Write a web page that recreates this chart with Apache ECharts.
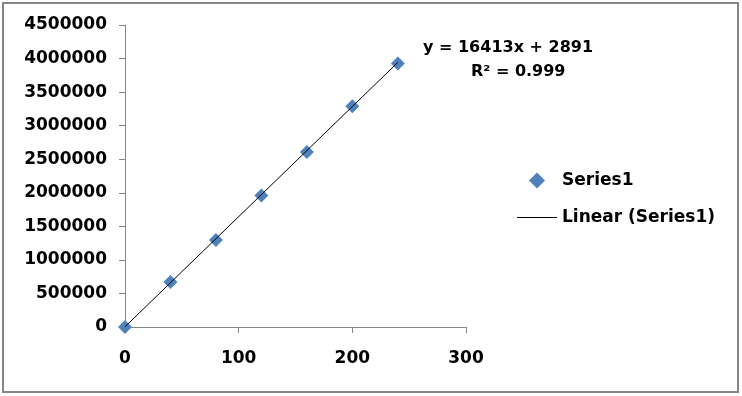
<!DOCTYPE html>
<html>
<head>
<meta charset="utf-8">
<script src="https://cdn.jsdelivr.net/npm/echarts@6/dist/echarts.min.js"></script>
<style>
html,body{margin:0;padding:0;background:#fff;}
#chart{width:742px;height:396px;}
</style>
</head>
<body>
<div id="chart"></div>
<script>
// ---- data ----
var xValues = [0, 40, 80, 120, 160, 200, 240];
var yValues = [0, 672000, 1297000, 1958000, 2607000, 3289000, 3927000];
var seriesName = 'Series1';
var trendName = 'Linear (Series1)';
var trendSlope = 16413;
var trendIntercept = 2891;
var equationText = 'y = 16413x + 2891';
var r2Text = 'R² = 0.999';
var xTicks = [0, 100, 200, 300];
var yTicks = [0, 500000, 1000000, 1500000, 2000000, 2500000, 3000000, 3500000, 4000000, 4500000];

var points = xValues.map(function (x, i) { return [x, yValues[i]]; });
var xMinData = Math.min.apply(null, xValues);
var xMaxData = Math.max.apply(null, xValues);
var trendPoints = [xMinData, xMaxData].map(function (x) { return [x, trendSlope * x + trendIntercept]; });

var FONT = 'DejaVu Sans';
var axisColor = '#868686';

var chart = echarts.init(document.getElementById('chart'), null, {renderer: 'canvas'});
chart.setOption({
  animation: false,
  backgroundColor: '#fff',
  grid: {left: 125, top: 25, width: 341, height: 302, containLabel: false},
  xAxis: {
    type: 'value',
    min: xTicks[0], max: xTicks[xTicks.length - 1], interval: xTicks[1] - xTicks[0],
    splitLine: {show: false},
    axisLine: {show: true, onZero: false, lineStyle: {color: axisColor, width: 1}},
    axisTick: {show: true, inside: false, length: 6, lineStyle: {color: axisColor}},
    axisLabel: {color: '#000', fontFamily: FONT, fontWeight: 'bold', fontSize: 17, margin: 23,
      formatter: function (v) { return String(v); }}
  },
  yAxis: {
    type: 'value',
    min: yTicks[0], max: yTicks[yTicks.length - 1], interval: yTicks[1] - yTicks[0],
    splitLine: {show: false},
    axisLine: {show: true, onZero: false, lineStyle: {color: axisColor, width: 1}},
    axisTick: {show: true, inside: false, length: 6, lineStyle: {color: axisColor}},
    axisLabel: {color: '#000', fontFamily: FONT, fontWeight: 'bold', fontSize: 17, margin: 18,
      formatter: function (v) { return String(v); }}
  },
  legend: {
    orient: 'vertical',
    left: 512, top: 167,
    itemWidth: 40, itemHeight: 16, itemGap: 20,
    symbolKeepAspect: true,
    textStyle: {color: '#000', fontFamily: FONT, fontWeight: 'bold', fontSize: 17, lineHeight: 17},
    data: [
      {name: seriesName, icon: 'path://M6.5,0L13,6.5L6.5,13L0,6.5Z', itemStyle: {color: '#4F81BD'}},
      {name: trendName, icon: 'path://M0,0L40,0L40,1L0,1Z', itemStyle: {color: '#000'}}
    ]
  },
  graphic: [
    {type: 'rect', shape: {x: 3, y: 3, width: 735, height: 389},
     style: {fill: 'none', stroke: '#868686', lineWidth: 2}, silent: true, z: 100},
    {type: 'text', left: 423, top: 40,
     style: {text: equationText, fill: '#000', font: 'bold 16px "DejaVu Sans"'}},
    {type: 'text', left: 471, top: 64,
     style: {text: r2Text, fill: '#000', font: 'bold 16px "DejaVu Sans"'}}
  ],
  series: [
    {
      name: trendName, type: 'line', data: trendPoints,
      symbol: 'none', showSymbol: false,
      lineStyle: {color: '#000', width: 1}, itemStyle: {color: '#000'},
      z: 3
    },
    {
      name: seriesName, type: 'scatter', data: points,
      symbol: 'diamond', symbolSize: 14,
      itemStyle: {color: '#4F81BD', opacity: 1},
      z: 2
    }
  ]
});
</script>
</body>
</html>
